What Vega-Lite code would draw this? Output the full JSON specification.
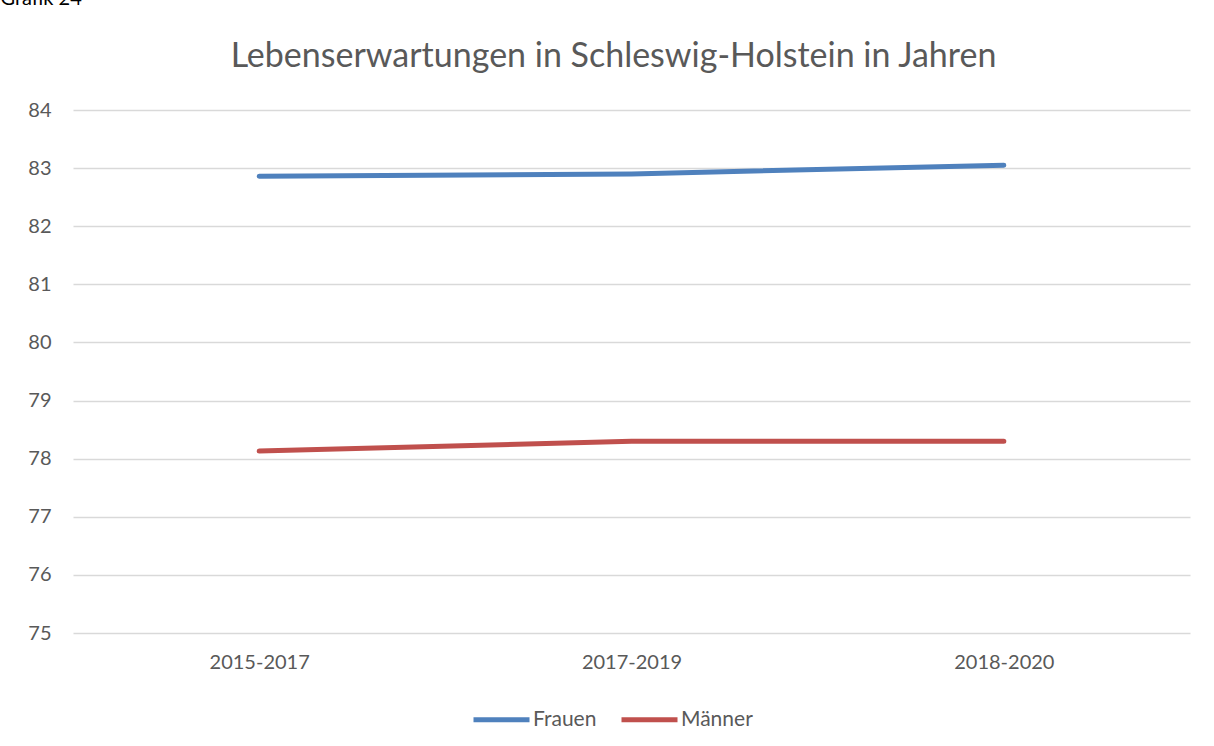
{
  "$schema": "https://vega.github.io/schema/vega-lite/v6.json",
  "width": 1117,
  "height": 523,
  "autosize": {"type": "none"},
  "padding": {"left": 73, "top": 110, "right": 24, "bottom": 113},
  "background": "white",
  "title": {
    "text": "Lebenserwartungen in Schleswig-Holstein in Jahren",
    "font": "Lato",
    "fontSize": 34,
    "fontWeight": "normal",
    "color": "#595959",
    "anchor": "middle",
    "baseline": "middle",
    "offset": 0,
    "dy": 103,
    "dx": -18
  },
  "data": {
    "values": [
      {"zeitraum": "2015-2017", "geschlecht": "Frauen", "wert": 82.86},
      {"zeitraum": "2017-2019", "geschlecht": "Frauen", "wert": 82.90},
      {"zeitraum": "2018-2020", "geschlecht": "Frauen", "wert": 83.05},
      {"zeitraum": "2015-2017", "geschlecht": "Männer", "wert": 78.13},
      {"zeitraum": "2017-2019", "geschlecht": "Männer", "wert": 78.30},
      {"zeitraum": "2018-2020", "geschlecht": "Männer", "wert": 78.30}
    ]
  },
  "mark": {"type": "line", "strokeWidth": 5, "strokeCap": "round", "strokeJoin": "round"},
  "encoding": {
    "x": {
      "field": "zeitraum",
      "type": "ordinal",
      "scale": {"type": "point", "padding": 0.5},
      "axis": {
        "title": null,
        "labelAngle": 0,
        "domain": false,
        "ticks": false,
        "grid": false,
        "labelPadding": 19,
        "labelFont": "Lato",
        "labelFontSize": 20,
        "labelColor": "#595959"
      }
    },
    "y": {
      "field": "wert",
      "type": "quantitative",
      "scale": {"domain": [75, 84], "nice": false, "zero": false},
      "axis": {
        "title": "Grafik 24",
        "titleAngle": 0,
        "titleX": -73,
        "titleY": -106,
        "titleAlign": "left",
        "titleBaseline": "alphabetic",
        "titleFont": "Lato",
        "titleFontSize": 20,
        "titleFontWeight": "normal",
        "titleColor": "#000000",
        "values": [75, 76, 77, 78, 79, 80, 81, 82, 83, 84],
        "domain": false,
        "ticks": false,
        "labelPadding": 22,
        "labelFont": "Lato",
        "labelFontSize": 20,
        "labelColor": "#595959",
        "gridColor": "#d9d9d9",
        "gridWidth": 1.3
      }
    },
    "color": {
      "field": "geschlecht",
      "type": "nominal",
      "scale": {"domain": ["Frauen", "Männer"], "range": ["#4f81bd", "#c0504d"]},
      "legend": {
        "title": null,
        "orient": "none",
        "legendX": 398,
        "legendY": 579,
        "direction": "horizontal",
        "symbolType": "stroke",
        "symbolSize": 3136,
        "symbolStrokeWidth": 5,
        "labelFont": "Lato",
        "labelFontSize": 21,
        "labelColor": "#595959",
        "labelOffset": 1,
        "columnPadding": 14
      }
    }
  },
  "config": {
    "view": {"stroke": null}
  }
}
